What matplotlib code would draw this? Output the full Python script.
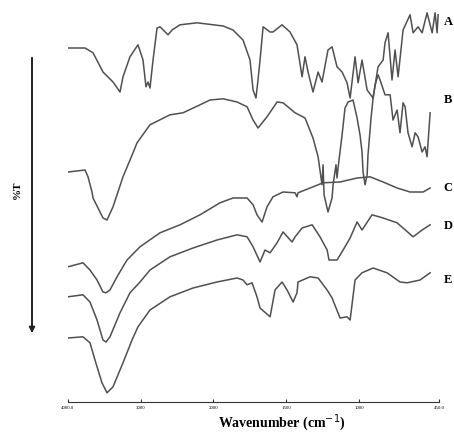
#!/usr/bin/env python3
# FTIR spectra of samples A-E, stacked, with the usual 2000 cm-1 scale break
import numpy as np
import matplotlib
matplotlib.use('Agg')
import matplotlib.pyplot as plt

# wavenumbers (cm-1) and offset transmittance
wn_A = [4000, 3766, 3656, 3519, 3381, 3285, 3244, 3148, 3038, 2969, 2928, 2900, 2873, 2831,
        2776, 2735, 2625, 2570, 2460, 2226, 1934, 1866, 1797, 1749, 1728, 1708, 1694, 1680,
        1659, 1611, 1591, 1529, 1474, 1426, 1391, 1371, 1350, 1316, 1281, 1254, 1213, 1185,
        1151, 1116, 1082, 1061, 1027, 1006, 979, 944, 903, 869, 834, 821, 800, 773, 752, 731,
        697, 649, 628, 594, 566, 532, 497, 477, 463, 456]
T_A = [88.5, 88.5, 87.3, 82.5, 80, 77.5, 81.3, 86.3, 89.3, 85.5, 78.8, 80, 78.5, 85.5,
       93.5, 93.8, 91.8, 93, 94.3, 94.8, 94, 93, 90.5, 85.5, 78, 76, 80.5, 85.5,
       93.8, 92.5, 92.5, 94.3, 92.5, 89.3, 81.3, 86.3, 82.5, 77.5, 82.5, 80, 88, 88.8,
       83.8, 82.5, 79.8, 76, 86.3, 79.8, 85.5, 78, 76, 83.8, 85.5, 89.8, 92.3, 80.5, 88, 81.3,
       93, 96.8, 92.3, 93.8, 92.3, 97.3, 92.3, 97.3, 92.3, 96.8]

wn_B = [4000, 3766, 3725, 3670, 3656, 3519, 3464, 3381, 3244, 3106, 3051, 2873, 2598, 2419,
        2185, 2048, 1934, 1838, 1769, 1728, 1694, 1632, 1563, 1522, 1439, 1371, 1316, 1281,
        1254, 1247, 1240, 1213, 1185, 1178, 1158, 1151, 1144, 1116, 1096, 1075, 1041, 1013,
        993, 979, 972, 958, 944, 938, 917, 903, 889, 869, 855, 821, 786, 766, 738, 718, 697,
        683, 663, 635, 614, 594, 566, 546, 532, 511]
T_B = [57.5, 58, 56.3, 52.5, 51, 46, 45.5, 48.8, 56.3, 62.3, 64.8, 69.3, 71.8, 72.3,
       74.3, 75.5, 75.8, 75, 73.8, 70.5, 68.5, 71.3, 75, 74.8, 72.3, 71, 66, 61.3,
       54.3, 59.3, 51.8, 47.5, 51, 54.3, 59.3, 56, 58.5, 66.8, 73.5, 75, 75.5, 71,
       66.8, 62.5, 57.5, 54.3, 56.8, 61.8, 71, 76, 79.3, 81.8, 80.5, 76.8, 76.8, 70.5, 73, 67.3, 74.8,
       73.8, 67.3, 63.8, 67.3, 66.3, 62.5, 63.8, 61.3, 72.3]

wn_C = [4000, 3794, 3698, 3601, 3519, 3478, 3423, 3326, 3189, 3010, 2735, 2460, 2185, 1955,
        1866, 1769, 1728, 1701, 1666, 1632, 1591, 1522, 1439, 1426, 1419, 1336, 1247, 1130,
        1013, 924, 834, 738, 649, 559, 511]
T_C = [33.8, 34.8, 33, 30.5, 27.5, 27.3, 28, 31.3, 35.5, 38.8, 42.3, 44.3, 46.8, 49.8,
       51, 51, 49.3, 46.8, 45, 48.8, 51.3, 52.5, 52.3, 51.3, 52.3, 53.5, 54.8, 55,
       56, 56.3, 55, 53.5, 52.5, 52.5, 53.5]

wn_D = [4000, 3794, 3698, 3601, 3519, 3478, 3423, 3285, 3148, 3010, 2873, 2598, 2281, 1976,
        1838, 1769, 1728, 1680, 1646, 1611, 1563, 1522, 1460, 1439, 1391, 1322, 1268, 1219,
        1206, 1151, 1109, 1061, 1013, 979, 910, 834, 738, 628, 566, 511]
T_D = [26.3, 26.8, 25, 20.5, 15.5, 15, 16.3, 22.3, 27.3, 30, 33, 36.3, 38.5, 40.5,
       41.8, 41.3, 38.8, 35, 38, 37.3, 39.8, 42.5, 40, 41.3, 43.5, 44.3, 41.3, 38,
       35.5, 35.5, 38, 41, 45, 43, 46.8, 46, 44.8, 41.3, 43, 44.3]

wn_E = [4000, 3794, 3698, 3629, 3533, 3464, 3381, 3244, 3120, 3038, 2873, 2598, 2281, 1976,
        1838, 1797, 1769, 1735, 1701, 1680, 1611, 1577, 1529, 1494, 1453, 1426, 1419, 1336,
        1281, 1219, 1185, 1130, 1082, 1061, 1027, 979, 903, 807, 718, 669, 580, 511]
T_E = [16, 16.3, 14.8, 10.5, 4.8, 2.3, 3.8, 9.8, 15.5, 18.8, 23, 26.3, 28.5, 30,
       31, 30.5, 29.3, 29.8, 26.3, 23.5, 21.3, 28, 30, 28, 25, 27.3, 30, 31.3,
       31, 28, 26, 21, 21.3, 20.5, 30.5, 32.3, 33.5, 32.3, 30, 29.8, 30.5, 32.3]

labels = ['A', 'B', 'C', 'D', 'E']
label_T = [95, 75.5, 53.5, 44, 30.5]
tick_wn = [4000, 3000, 2000, 1500, 1000, 450]
tick_txt = ['4000.0', '3000', '2000', '1500', '1000', '450.0']

# below 2000 cm-1 the axis is stretched by a factor of two
def fwd(w):
	w = np.asarray(w, dtype=float)
	return np.where(w > 2000, w, 2*w - 2000)

def inv(u):
	u = np.asarray(u, dtype=float)
	return np.where(u > 2000, u, (u + 2000)/2)

fig = plt.figure(figsize=(4.54, 4.32), dpi=100)
ax = fig.add_axes([68/454, 30/432, 371/454, 402/432])
ax.set_xscale('function', functions=(fwd, inv))

for wn, T in [(wn_A, T_A), (wn_B, T_B), (wn_C, T_C), (wn_D, T_D), (wn_E, T_E)]:
	ax.plot(wn, T, color='#505050', lw=1.1, solid_joinstyle='round')

ax.set_xlim(4000, 450)
ax.set_ylim(0, 100.5)
for s in ['left', 'right', 'top']:
	ax.spines[s].set_visible(False)
ax.spines['bottom'].set_color('#333333')
ax.set_yticks([])
ax.set_xticks(tick_wn)
ax.set_xticklabels(tick_txt, fontsize=3.5, family='Liberation Serif')
ax.xaxis.set_minor_locator(matplotlib.ticker.NullLocator())
ax.tick_params(axis='x', direction='in', length=2, pad=3, color='#333333')
ax.set_xlabel(r'Wavenumber (cm$^{-1}$)', fontsize=10, fontweight='bold',
	family='Liberation Serif', va='center')
ax.xaxis.set_label_coords(0.577, -0.052)

# sample letters sit just right of the plot
for lab, t in zip(labels, label_T):
	ax.text(1.012, t, lab, transform=ax.get_yaxis_transform(), fontsize=9,
		fontweight='bold', family='Liberation Serif', va='center', ha='left', clip_on=False)

# %T with the downward arrow on the left
fig.text(17/454, 1-190/432, '%T', rotation=90, fontsize=8, fontweight='bold',
	family='Liberation Serif', ha='center', va='center')
fig.add_artist(matplotlib.patches.FancyArrowPatch((32/454, 1-55/432), (32/454, 1-336/432),
	transform=fig.transFigure, arrowstyle='-|>', mutation_scale=8, color='#222222', lw=1.4))

plt.savefig('out.png', dpi=100)
